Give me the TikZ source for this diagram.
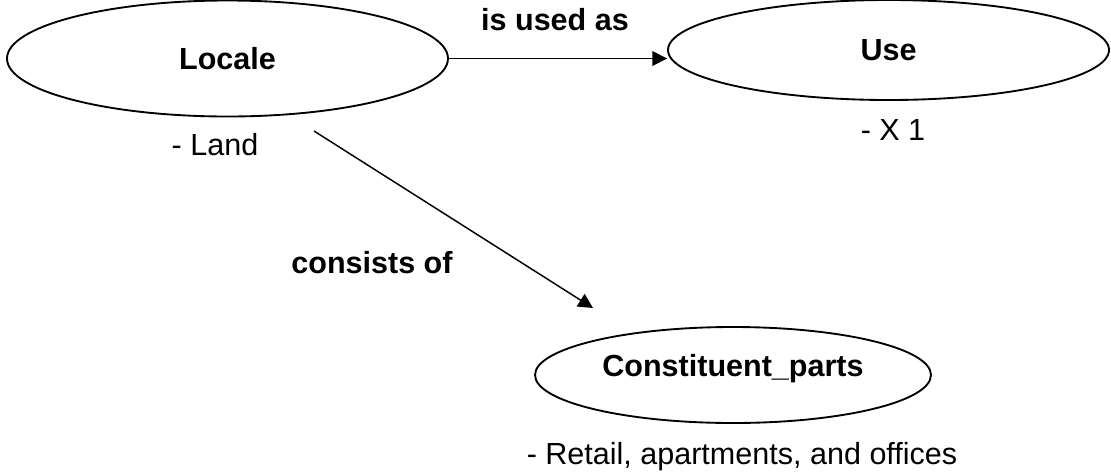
\documentclass[tikz,border=0pt]{standalone}
\usepackage{fontspec}
\setmainfont{Liberation Sans}
\usetikzlibrary{shapes.geometric,arrows.meta}
\begin{document}
\begin{tikzpicture}[x=0.75pt,y=-0.75pt,
  ent/.style={draw, ellipse, inner sep=0pt, line width=1.4pt,
    font=\fontsize{22.9}{27}\selectfont\bfseries, text height=16.4pt, text depth=0pt},
  note/.style={anchor=base, inner sep=0pt, font=\fontsize{22.9}{27}\selectfont},
  rel/.style={anchor=base, inner sep=0pt, font=\fontsize{22.9}{27}\selectfont\bfseries},
  link/.style={line width=1.1pt, -{Triangle[length=11pt,width=11pt]}}]
% canvas
\fill[white] (0,0) rectangle (1111,472);
\useasboundingbox (0,0) rectangle (1111,472);

% entities
\node[ent, minimum width=330.75pt, minimum height=87pt] (locale) at (227.5,58.5) {Locale};
\node[ent, minimum width=330.75pt, minimum height=75pt] (use) at (888.5,50) {Use};
\node[ent, minimum width=297pt, minimum height=72pt, text depth=13.5pt] (parts) at (733,375) {Constituent\_parts};

% attribute lists
\node[note] (landnote) at (215,155) {- Land};
\node[note] (usenote) at (893,140) {- X 1};
\node[note] (partsnote) at (742,464) {- Retail, apartments, and offices};

% relations
\draw[link] (locale.east) -- (locale.east -| use.west);
\node[rel] (usedas) at (555,30) {is used as};

\coordinate (cfrom) at (314,131);
\coordinate (cto) at (593,308);
\draw[link] (cfrom) -- (cto);
\node[rel] (consists) at (372,273) {consists of};
\end{tikzpicture}
\end{document}
